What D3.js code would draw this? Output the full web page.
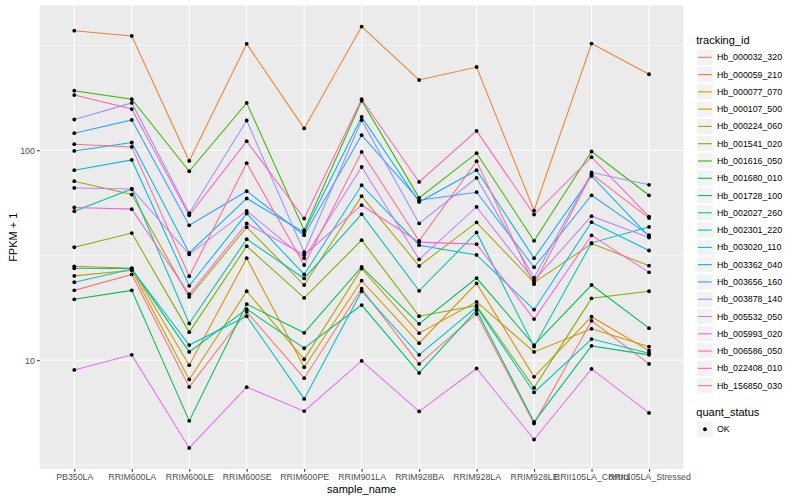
<!DOCTYPE html>
<html><head><meta charset="utf-8">
<script src="https://cdn.jsdelivr.net/npm/d3@7"></script>
<style>
body{margin:0;background:#fff}
svg{display:block}
text{font-family:"Liberation Sans", Arial, Helvetica, sans-serif}
</style>
</head><body>
<svg id="chart" width="800" height="500"></svg>
<script>
// ---------------- data ----------------
const categories = ["PB350LA","RRIM600LA","RRIM600LE","RRIM600SE","RRIM600PE","RRIM901LA","RRIM928BA","RRIM928LA","RRIM928LE","RRII105LA_Control","RRII105LA_Stressed"];
const trackingIds = ["Hb_000032_320","Hb_000059_210","Hb_000077_070","Hb_000107_500","Hb_000224_060","Hb_001541_020","Hb_001616_050","Hb_001680_010","Hb_001728_100","Hb_002027_260","Hb_002301_220","Hb_003020_110","Hb_003362_040","Hb_003656_160","Hb_003878_140","Hb_005532_050","Hb_005993_020","Hb_006586_050","Hb_022408_010","Hb_156850_030"];
const seriesColors = ["#F8766D","#EA8331","#D89000","#C09B00","#A3A500","#7CAE00","#39B600","#00BB4E","#00BF7D","#00C1A3","#00BFC4","#00BAE0","#00B0F6","#35A2FF","#9590FF","#C77CFF","#E76BF3","#FA62DB","#FF62BC","#FF6C91"];

// FPKM + 1 per sample (order of categories)
const hb_000032_320 = [21.5, 25.6, 7.46, 17.0, 8.21, 21.9, 9.60, 16.6, 4.99, 15.4, 9.60];
const hb_000059_210 = [371, 350, 88.9, 321, 127, 388, 216, 249, 51.6, 322, 230];
const hb_000077_070 = [28.0, 27.4, 9.47, 30.6, 9.26, 23.9, 12.05, 23.2, 8.33, 16.1, 11.1];
const hb_000107_500 = [25.2, 26.8, 8.09, 21.3, 10.1, 27.3, 13.45, 18.95, 10.95, 14.1, 11.6];
const hb_000224_060 = [71.2, 61.5, 20.0, 43.0, 22.8, 60.4, 28.1, 45.3, 23.4, 35.9, 28.2];
const hb_001541_020 = [34.5, 40.3, 13.6, 34.9, 19.8, 37.3, 16.2, 18.2, 7.38, 19.7, 21.3];
const hb_001616_050 = [192, 175, 79.4, 168, 41.6, 172, 59.3, 96.8, 37.0, 98.6, 61.0];
const hb_001680_010 = [19.5, 21.5, 5.14, 18.5, 13.5, 27.8, 14.9, 24.6, 11.8, 22.8, 14.2];
const hb_001728_100 = [27.4, 27.3, 10.95, 17.5, 11.4, 18.3, 8.70, 17.3, 5.08, 11.7, 10.6];
const hb_002027_260 = [51.2, 65.4, 14.95, 37.7, 24.5, 49.6, 21.4, 40.6, 11.6, 36.2, 43.1];
const hb_002301_220 = [23.5, 27.1, 11.8, 16.2, 6.54, 21.3, 10.6, 17.9, 7.02, 12.6, 10.8];
const hb_003020_110 = [80.3, 89.9, 22.6, 49.9, 25.6, 68.1, 35.3, 31.7, 17.4, 45.4, 33.3];
const hb_003362_040 = [99.2, 108.8, 32.4, 58.9, 40.6, 144, 56.7, 80.3, 30.6, 75.4, 38.9];
const hb_003656_160 = [120.5, 139.4, 43.9, 63.8, 39.4, 117.9, 57.8, 63.1, 27.7, 61.0, 39.4];
const hb_003878_140 = [140, 168, 50.1, 138.5, 32.7, 139, 44.8, 73.8, 24.7, 78.3, 68.4];
const hb_005532_050 = [66.1, 65.4, 31.9, 51.4, 30.6, 83.2, 30.2, 53.7, 24.0, 48.5, 38.4];
const hb_005993_020 = [8.99, 10.6, 3.82, 7.44, 5.72, 9.92, 5.70, 9.13, 4.19, 9.09, 5.61];
const hb_006586_050 = [53.4, 52.4, 20.6, 44.8, 31.7, 54.7, 36.5, 35.7, 15.7, 39.3, 26.2];
const hb_022408_010 = [183, 157, 49.0, 110.4, 47.3, 175, 70.6, 123.6, 49.4, 92.6, 48.3];
const hb_156850_030 = [106.8, 103.7, 25.1, 86.7, 28.4, 98.1, 37.0, 88.6, 23.0, 76.9, 47.5];

const seriesValues = [hb_000032_320, hb_000059_210, hb_000077_070, hb_000107_500, hb_000224_060, hb_001541_020, hb_001616_050, hb_001680_010, hb_001728_100, hb_002027_260, hb_002301_220, hb_003020_110, hb_003362_040, hb_003656_160, hb_003878_140, hb_005532_050, hb_005993_020, hb_006586_050, hb_022408_010, hb_156850_030];

const yTickValues = [10, 100];
const yTickLabels = ["10", "100"];
const yMinorValues = [3.1623, 31.623, 316.23];
const quantStatus = ["OK"];

// ---------------- layout ----------------
const panel = {left: 39.8, right: 683.5, top: 5.5, bottom: 469};
const svg = d3.select("#chart");

const x = d3.scalePoint().domain(categories).range([panel.left, panel.right]).padding(0.6);
const allVals = seriesValues.flat();
const lo = Math.log10(d3.min(allVals)), hi = Math.log10(d3.max(allVals));
const pad = (hi - lo) * 0.05;
const y = d3.scaleLog().domain([Math.pow(10, lo - pad), Math.pow(10, hi + pad)]).range([panel.bottom, panel.top]);

// panel background
svg.append("rect").attr("x", panel.left).attr("y", panel.top)
  .attr("width", panel.right - panel.left).attr("height", panel.bottom - panel.top)
  .attr("fill", "#EBEBEB");

const grid = svg.append("g");
grid.selectAll(".ymin").data(yMinorValues.filter(v => v >= y.domain()[0] && v <= y.domain()[1])).join("line")
  .attr("x1", panel.left).attr("x2", panel.right)
  .attr("y1", d => y(d)).attr("y2", d => y(d))
  .attr("stroke", "#fff").attr("stroke-width", 0.55);
grid.selectAll(".ymaj").data(yTickValues).join("line")
  .attr("x1", panel.left).attr("x2", panel.right)
  .attr("y1", d => y(d)).attr("y2", d => y(d))
  .attr("stroke", "#fff").attr("stroke-width", 1.1);
grid.selectAll(".xmaj").data(categories).join("line")
  .attr("x1", d => x(d)).attr("x2", d => x(d))
  .attr("y1", panel.top).attr("y2", panel.bottom)
  .attr("stroke", "#fff").attr("stroke-width", 1.1);

// lines
const line = d3.line().x((d, i) => x(categories[i])).y(d => y(d));
svg.append("g").selectAll("path").data(seriesValues).join("path")
  .attr("d", d => line(d))
  .attr("fill", "none")
  .attr("stroke", (d, i) => seriesColors[i])
  .attr("stroke-width", 1.05);

// points
const pts = [];
seriesValues.forEach((vals, s) => vals.forEach((v, i) => pts.push({c: categories[i], v})));
svg.append("g").selectAll("circle").data(pts).join("circle")
  .attr("cx", d => x(d.c)).attr("cy", d => y(d.v)).attr("r", 1.9)
  .attr("fill", "#000");

// axes
const xAxis = svg.append("g").attr("transform", `translate(0,${panel.bottom})`)
  .call(d3.axisBottom(x).tickSize(2.75).tickPadding(2.2));
const yAxis = svg.append("g").attr("transform", `translate(${panel.left},0)`)
  .call(d3.axisLeft(y).tickValues(yTickValues).tickFormat((d, i) => yTickLabels[i]).tickSize(2.75).tickPadding(2.2));
[xAxis, yAxis].forEach(a => {
  a.select(".domain").remove();
  a.selectAll(".tick line").attr("stroke", "#333333").attr("stroke-width", 1.07);
  a.selectAll(".tick text").attr("fill", "#4D4D4D").attr("font-size", "8.8px")
    .attr("font-family", "Liberation Sans, Arial, sans-serif");
});

// axis titles
svg.append("text").attr("x", (panel.left + panel.right) / 2).attr("y", 493)
  .attr("text-anchor", "middle").attr("font-size", "11px").attr("fill", "#000").text("sample_name");
svg.append("text").attr("transform", `translate(17,${(panel.top + panel.bottom) / 2}) rotate(-90)`)
  .attr("text-anchor", "middle").attr("font-size", "11px").attr("fill", "#000").text("FPKM + 1");

// legend: tracking_id
const keySize = 17.28;
const lg = svg.append("g").attr("transform", "translate(696.3,0)");
lg.append("text").attr("x", 0).attr("y", 43.8).attr("font-size", "11px").attr("fill", "#000").text("tracking_id");
const items = lg.selectAll(".item").data(trackingIds).join("g")
  .attr("transform", (d, i) => `translate(0,${48.66 + i * keySize})`);
items.append("rect").attr("width", keySize).attr("height", keySize)
  .attr("fill", "#F2F2F2").attr("stroke", "#fff").attr("stroke-width", 2);
items.append("line").attr("x1", 1.7).attr("x2", keySize - 1.7)
  .attr("y1", keySize / 2).attr("y2", keySize / 2)
  .attr("stroke", (d, i) => seriesColors[i]).attr("stroke-width", 1.1);
items.append("text").attr("x", keySize + 3.4).attr("y", keySize / 2).attr("dy", "0.35em")
  .attr("font-size", "8.8px").attr("fill", "#000").text(d => d);

// legend: quant_status
const lq = svg.append("g").attr("transform", "translate(696.3,0)");
lq.append("text").attr("x", 0).attr("y", 415.8).attr("font-size", "11px").attr("fill", "#000").text("quant_status");
const qItems = lq.selectAll(".q").data(quantStatus).join("g")
  .attr("transform", (d, i) => `translate(0,${420.6 + i * keySize})`);
qItems.append("rect").attr("width", keySize).attr("height", keySize)
  .attr("fill", "#F2F2F2").attr("stroke", "#fff").attr("stroke-width", 2);
qItems.append("circle").attr("cx", keySize / 2).attr("cy", keySize / 2).attr("r", 1.9).attr("fill", "#000");
qItems.append("text").attr("x", keySize + 3.4).attr("y", keySize / 2).attr("dy", "0.35em")
  .attr("font-size", "8.8px").attr("fill", "#000").text(d => d);
</script>
</body></html>
